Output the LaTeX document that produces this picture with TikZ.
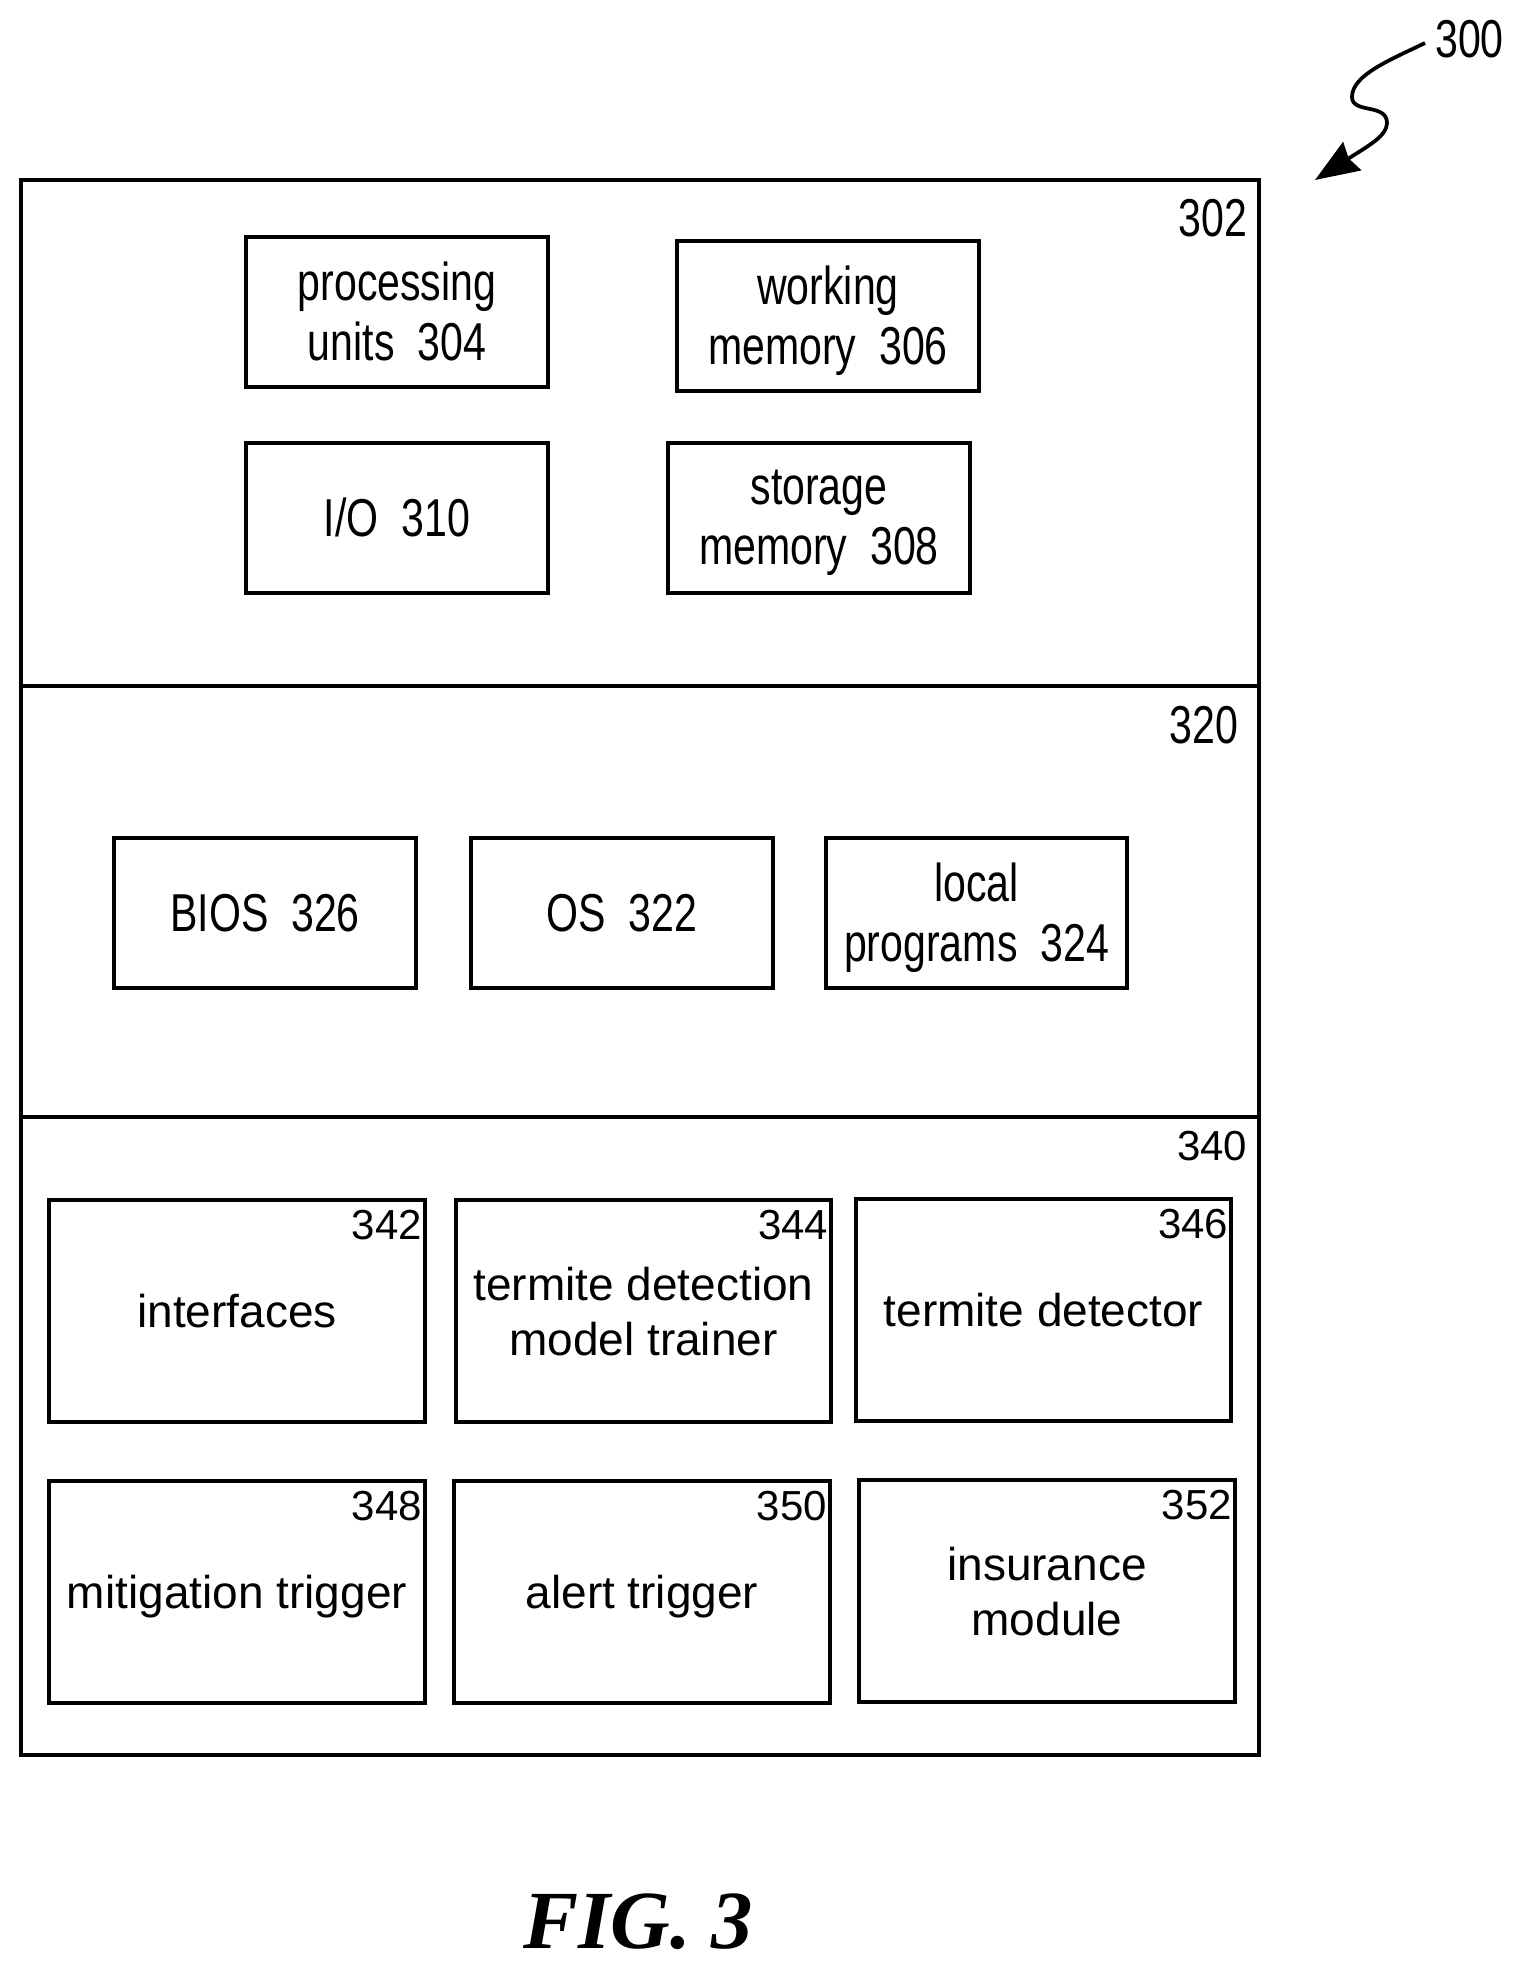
\documentclass[tikz,border=0pt]{standalone}
\usepackage{fontspec}
\setmainfont{Liberation Sans}
\newfontfamily\narrowfont[FakeStretch=0.77]{Liberation Sans}
\newfontfamily\figfont{Liberation Serif}
\usetikzlibrary{arrows.meta}
\tikzset{
    panel/.style={line width=3pt}, % outer panels
    hwbox/.style={draw, line width=3pt, minimum width=226pt, minimum height=112.5pt, inner sep=0pt, text depth=0pt, align=center, font=\narrowfont\fontsize{40}{45}\selectfont}, % boxes of the upper panels
    modbox/.style={draw, line width=3pt, minimum width=281.5pt, minimum height=166.5pt, inner sep=0pt, text depth=0pt, align=center, font=\fontsize{34.5}{41.5}\selectfont}, % boxes of the lower panel
    bignum/.style={anchor=east, inner sep=0pt, font=\narrowfont\fontsize{40}{40}\selectfont}, % panel numbers
    smallnum/.style={anchor=north east, inner sep=0pt, font=\fontsize{31.5}{31.5}\selectfont} % module numbers
}
\begin{document}
\begin{tikzpicture}[x=0.75pt, y=-0.75pt]
    \useasboundingbox (0,0) rectangle (1522,1970);

    % panels
    \draw[panel] (21,180) rectangle (1259,686);
    \draw[panel] (21,686) rectangle (1259,1117);
    \draw[panel] (21,1117) rectangle (1259,1755);

    % upper boxes
    \node[hwbox] (proc) at (397,311.5) {processing\\units\ \ 304};
    \node[hwbox] (work) at (828,315.5) {working\\memory\ \ 306};
    \node[hwbox] (io) at (397,517.5) {I/O\ \ 310};
    \node[hwbox] (stor) at (819,517.5) {storage\\memory\ \ 308};
    \node[hwbox] (bios) at (265,912.5) {BIOS\ \ 326};
    \node[hwbox] (os) at (622,912.5) {OS\ \ 322};
    \node[hwbox] (local) at (976.5,912.5) {local\\programs\ \ 324};

    % lower boxes
    \node[modbox] (iface) at (237,1311) {interfaces};
    \node[modbox] (train) at (643.5,1311) {termite detection\\model trainer};
    \node[modbox] (detect) at (1043.5,1310) {termite detector};
    \node[modbox] (mitig) at (237,1592) {mitigation trigger};
    \node[modbox] (alert) at (642,1592) {alert trigger};
    \node[modbox] (insur) at (1047,1591) {insurance\\module};

    % numbers
    \node[bignum] (n302) at (1247.5,218) {302};
    \node[bignum] (n320) at (1238.5,725) {320};
    \node[smallnum, anchor=east] (n340) at (1247.5,1146) {340};
    \foreach \name/\num in {iface/342, train/344, detect/346, mitig/348, alert/350, insur/352} {
        \node[smallnum] (n\num) at ([xshift=-3.5pt, yshift=-9pt]\name.north east) {\num};
    }

    % reference arrow
    \node[bignum] (n300) at (1504,39) {300};
    \coordinate (tip) at (1315,180);
    \draw[line width=2.8pt, -{Stealth[length=33pt, width=25pt, inset=3pt]}] (1425,43) .. controls (1390,60) and (1352,75) .. (1352,97) .. controls (1352,114) and (1387,103) .. (1387,123) .. controls (1387,136) and (1368,146) .. (tip);

    \node[inner sep=0pt, font=\figfont\bfseries\itshape\fontsize{62}{62}\selectfont] (fig) at (638,1922) {FIG. 3};
\end{tikzpicture}
\end{document}
